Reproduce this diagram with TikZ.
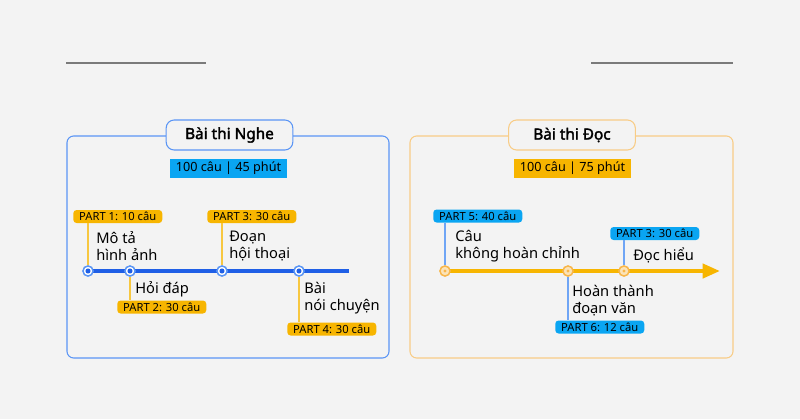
\documentclass[tikz,border=0pt]{standalone}
\usepackage{fontspec}
\setmainfont{Noto Sans}
\newfontfamily\titlefont{Noto Sans}[FakeBold=2.2]
\usepackage{xcolor}
\usepackage{tikz}
\usetikzlibrary{arrows.meta, positioning, calc}
\definecolor{bggray}{HTML}{F3F3F3}
\definecolor{rulegray}{HTML}{7A7A7A}
\definecolor{ngheblue}{HTML}{5A95F5}
\definecolor{lineblue}{HTML}{1F5FE6}
\definecolor{badgeblue}{HTML}{0AA5F2}
\definecolor{stickblue}{HTML}{6FA5F5}
\definecolor{docyellow}{HTML}{F7B500}
\definecolor{docborder}{HTML}{F8CC86}
\definecolor{stickyellow}{HTML}{F7C740}
\definecolor{dotorange}{HTML}{F8B64A}
\definecolor{dotfill}{HTML}{FBE3B8}

\begin{document}
\begin{tikzpicture}[x=0.75pt, y=-0.75pt,
    panel/.style={draw, rounded corners=5pt, line width=0.8pt},
    titlebox/.style={draw, fill=bggray, rounded corners=6pt, line width=0.8pt,
        minimum width=95pt, minimum height=22.5pt, inner sep=0pt,
        font=\titlefont\fontsize{11.5}{13}\selectfont},
    countbox/.style={minimum width=87.75pt, minimum height=14.25pt, inner sep=0pt,
        font=\fontsize{9.5}{11}\selectfont},
    partbox/.style={rounded corners=2.5pt, anchor=west, minimum width=66.75pt,
        minimum height=9.75pt, inner sep=0pt, font=\fontsize{8.4}{9}\selectfont},
    steptext/.style={anchor=north west, align=left, inner sep=0pt,
        font=\fontsize{11}{12.75}\selectfont},
    bluedot/.style={circle, draw=ngheblue, fill=white, line width=1pt,
        minimum size=7.5pt, inner sep=0pt,
        path picture={\fill[lineblue] (path picture bounding box.center) circle (1.9pt);}},
    orangedot/.style={circle, draw=dotorange, fill=dotfill, line width=1pt,
        minimum size=7.5pt, inner sep=0pt,
        path picture={\fill[dotorange] (path picture bounding box.center) circle (1.3pt);}},
]
    % Background
    \fill[bggray] (0,0) rectangle (800,419);
    \draw[rulegray, line width=1.1pt] (66,63) -- (206,63);
    \draw[rulegray, line width=1.1pt] (591,63) -- (733,63);

    % Panels
    \draw[panel, ngheblue] (67,136) rectangle (389,358);
    \draw[panel, docborder] (410,136) rectangle (733,358);
    \node[titlebox, draw=ngheblue] (nghe) at (229.5,135) {Bài thi Nghe};
    \node[titlebox, draw=docborder] (doc) at (572,135) {Bài thi Đọc};
    \node[countbox, fill=badgeblue] (nghecount) at (228.5,168.5) {100 câu | 45 phút};
    \node[countbox, fill=docyellow] (doccount) at (572.5,168.5) {100 câu | 75 phút};

    % Listening timeline
    \draw[lineblue, line width=3pt] (85,271) -- (349,271);
    \node[bluedot] (d1) at (88,271) {};
    \node[bluedot] (d2) at (130,271) {};
    \node[bluedot] (d3) at (222,271) {};
    \node[bluedot] (d4) at (299,271) {};

    \node[partbox, fill=docyellow] (p1) at (73,216.5) {PART 1: 10 câu};
    \node[partbox, fill=docyellow] (p2) at (117,307) {PART 2: 30 câu};
    \node[partbox, fill=docyellow] (p3) at (207,216.5) {PART 3: 30 câu};
    \node[partbox, fill=docyellow] (p4) at (287,329) {PART 4: 30 câu};

    \draw[stickyellow, line width=0.8pt] (d1) -- (d1 |- p1.south);
    \draw[stickyellow, line width=0.8pt] (d2) -- (d2 |- p2.north);
    \draw[stickyellow, line width=0.8pt] (d3) -- (d3 |- p3.south);
    \draw[stickyellow, line width=0.8pt] (d4) -- (d4 |- p4.north);
    \node[bluedot] at (d1) {};
    \node[bluedot] at (d2) {};
    \node[bluedot] at (d3) {};
    \node[bluedot] at (d4) {};

    \node[steptext] (t1) at (96,231) {Mô tả\\hình ảnh};
    \node[steptext] (t2) at (135,281) {Hỏi đáp};
    \node[steptext] (t3) at (229,231) {Đoạn\\hội thoại};
    \node[steptext] (t4) at (304,282) {Bài\\nói chuyện};

    % Reading timeline
    \draw[docyellow, line width=3pt, -{Triangle[length=13pt, width=10.5pt]}] (445,271) -- (720,271);
    \node[orangedot] (r1) at (445,271) {};
    \node[orangedot] (r2) at (568,271) {};
    \node[orangedot] (r3) at (624,271) {};

    \node[partbox, fill=badgeblue] (p5) at (433,216) {PART 5: 40 câu};
    \node[partbox, fill=badgeblue] (p6) at (555,327) {PART 6: 12 câu};
    \node[partbox, fill=badgeblue] (p7) at (610,233.5) {PART 3: 30 câu};

    \draw[stickblue, line width=0.8pt] (r1) -- (r1 |- p5.south);
    \draw[stickblue, line width=0.8pt] (r2) -- (r2 |- p6.north);
    \draw[stickblue, line width=0.8pt] (r3) -- (r3 |- p7.south);
    \node[orangedot] at (r1) {};
    \node[orangedot] at (r2) {};
    \node[orangedot] at (r3) {};

    \node[steptext] (s1) at (455,230) {Câu\\không hoàn chỉnh};
    \node[steptext] (s2) at (572,285) {Hoàn thành\\đoạn văn};
    \node[steptext] (s3) at (633,247) {Đọc hiểu};
\end{tikzpicture}
\end{document}
